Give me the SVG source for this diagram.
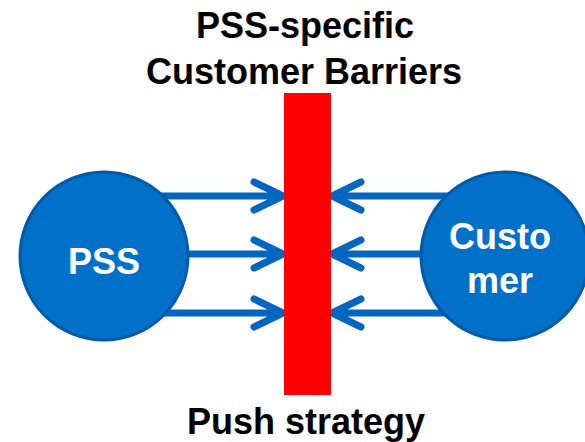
<svg xmlns="http://www.w3.org/2000/svg" width="585" height="442" viewBox="0 0 585 442">
<style>
.t{font-family:"Liberation Sans",Arial,sans-serif;font-weight:bold;font-size:36px;text-anchor:middle}
.w{fill:#fff}
.k{fill:#000}
.c{fill:#0070C8;stroke:#005AA8;stroke-width:3}
.a{stroke:#0066C0;stroke-width:7;stroke-linecap:round;stroke-linejoin:round;fill:none}
</style>
<g id="connectors">
<path class="a" d="M104 196H283M254 182L283 196L254 210"/>
<path class="a" d="M104 254H283M254 240L283 254L254 268"/>
<path class="a" d="M104 313H283M254 299L283 313L254 327"/>
<path class="a" d="M505 196H332M361 182L332 196L361 210"/>
<path class="a" d="M505 254H332M361 240L332 254L361 268"/>
<path class="a" d="M505 313H332M361 299L332 313L361 327"/>
</g>
<g id="pss">
<circle class="c" cx="104" cy="256" r="84"/>
<text class="t w" x="104" y="274">PSS</text>
</g>
<g id="customer">
<circle class="c" cx="505" cy="256" r="84"/>
<text class="t w" x="500" y="249">Custo</text>
<text class="t w" x="500" y="293">mer</text>
</g>
<g id="barrier">
<rect x="284" y="93" width="47" height="302" fill="#FF0000"/>
</g>
<g id="labels">
<text class="t k" x="305" y="38">PSS-specific</text>
<text class="t k" x="304" y="84">Customer Barriers</text>
<text class="t k" x="306" y="434">Push strategy</text>
</g>
</svg>
